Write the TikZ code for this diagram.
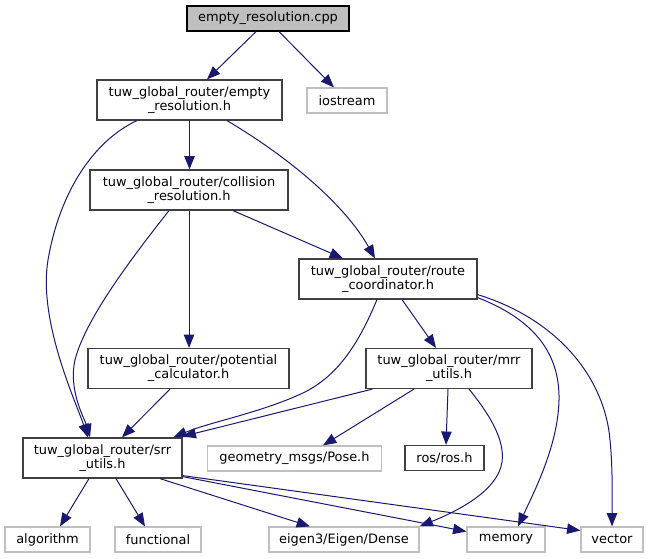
\documentclass[tikz,border=0pt]{standalone}
\usepackage{fontspec}
\setmainfont{DejaVu Sans}
\usetikzlibrary{arrows.meta,calc}
\definecolor{edgeblue}{HTML}{191970}
\definecolor{lightborder}{HTML}{BFBFBF}
\definecolor{cppfill}{HTML}{BFBFBF}
\definecolor{darkborder}{HTML}{404040}
\begin{document}
\begin{tikzpicture}[x=0.75pt,y=-0.75pt,
  base/.style={inner sep=0pt, align=center, font=\fontsize{9.7}{10.5}\selectfont, line width=0.9pt},
  box/.style={base, draw=darkborder},
  gbox/.style={base, draw=lightborder},
  cbox/.style={base, draw=black, fill=cppfill},
  sz/.style 2 args={minimum width=#1*0.75pt, minimum height=#2*0.75pt},
  dep/.style={draw=edgeblue, line width=0.75pt, -{Triangle[length=10pt,width=7.8pt]}}
]
\useasboundingbox (0,0) rectangle (649,559);

% nodes
\node[cbox, sz={162}{25}] (cpp) at (268,18.5) {empty\_resolution.cpp};
\node[box, sz={185}{40}] (emptyh) at (189.5,100) {tuw\_global\_router/empty\\\_resolution.h};
\node[gbox, sz={80}{25}] (iostream) at (347,100.5) {iostream};
\node[box, sz={198}{40}] (coll) at (189,190) {tuw\_global\_router/collision\\\_resolution.h};
\node[box, sz={178}{40}] (route) at (388,279) {tuw\_global\_router/route\\\_coordinator.h};
\node[box, sz={201}{40}] (pot) at (188.5,368.5) {tuw\_global\_router/potential\\\_calculator.h};
\node[box, sz={166}{40}] (mrr) at (449,368.5) {tuw\_global\_router/mrr\\\_utils.h};
\node[box, sz={159}{40}] (srr) at (102.5,458) {tuw\_global\_router/srr\\\_utils.h};
\node[gbox, sz={174}{25}] (geom) at (294.5,458.5) {geometry\_msgs/Pose.h};
\node[box, sz={79}{25}] (ros) at (444.5,458) {ros/ros.h};
\node[gbox, sz={85}{25}] (algo) at (47.5,539.5) {algorithm};
\node[gbox, sz={86}{25}] (func) at (158,539.5) {functional};
\node[gbox, sz={150}{25}] (eigen) at (344,539.5) {eigen3/Eigen/Dense};
\node[gbox, sz={78}{25}] (memory) at (506,539.5) {memory};
\node[gbox, sz={62}{25}] (vector) at (612,539.5) {vector};

% edges
\draw[dep] ($(cpp.south)+(-12,0)$) -- ($(emptyh.north)+(17.5,0)$);
\draw[dep] ($(cpp.south)+(11,0)$) -- ($(iostream.north)+(-13,0)$);
\draw[dep] (emptyh.south) -- (emptyh.south |- coll.north);
\draw[dep] ($(emptyh.south)+(-52.5,0)$) .. controls (95,140) and (60,190) .. (48,260)
   .. controls (38,320) and (75,400) .. ($(srr.north)+(-14.5,0)$);
\draw[dep] ($(emptyh.south)+(37.5,0)$) .. controls (290,158) and (345,205) .. ($(route.north)+(-13,0)$);
\draw[dep] ($(coll.south)+(44,0)$) -- ($(route.north)+(-45,0)$);
\draw[dep] (coll.south) -- (coll.south |- pot.north);
\draw[dep] ($(coll.south)+(-20,0)$) .. controls (130,260) and (85,320) .. (75,360)
   .. controls (68,390) and (85,420) .. ($(srr.north)+(-12.5,0)$);
\draw[dep] ($(route.south)+(-11,0)$) .. controls (360,340) and (340,375) .. (303,393)
   .. controls (260,413) and (210,422) .. ($(srr.north)+(71,0)$);
\draw[dep] ($(route.south)+(14,0)$) -- ($(mrr.north)+(-13,0)$);
\draw[dep] ($(route.south east)+(0,-2)$) .. controls (530,318) and (560,350) .. (559,400)
   .. controls (558,445) and (535,490) .. ($(memory.north)+(12,0)$);
\draw[dep] ($(route.south east)+(0,-5)$) .. controls (560,320) and (605,380) .. (610,440)
   .. controls (613,470) and (612,500) .. (vector.north);
\draw[dep] ($(pot.south)+(-18.5,0)$) -- ($(srr.north)+(19.5,0)$);
\draw[dep] ($(mrr.south west)+(7,0)$) -- ($(srr.north east)+(0,-1)$);
\draw[dep] ($(mrr.south)+(-35,0)$) -- ($(geom.north)+(28.5,0)$);
\draw[dep] ($(mrr.south)+(-1,0)$) -- ($(ros.north)+(1.5,0)$);
\draw[dep] ($(mrr.south)+(20,0)$) .. controls (490,415) and (505,440) .. (502,462)
   .. controls (498,490) and (460,510) .. (eigen.north east);
\draw[dep] ($(srr.south)+(-13.5,0)$) -- ($(algo.north)+(12.5,0)$);
\draw[dep] ($(srr.south)+(13.5,0)$) -- ($(func.north)+(-13,0)$);
\draw[dep] ($(srr.south)+(57.5,0)$) -- ($(eigen.north)+(-34,0)$);
\draw[dep] ($(srr.south east)+(0,-2)$) -- ($(memory.west)+(0,-8)$);
\draw[dep] ($(srr.south east)+(0,-3)$) -- ($(vector.west)+(0,-9)$);
\end{tikzpicture}
\end{document}
